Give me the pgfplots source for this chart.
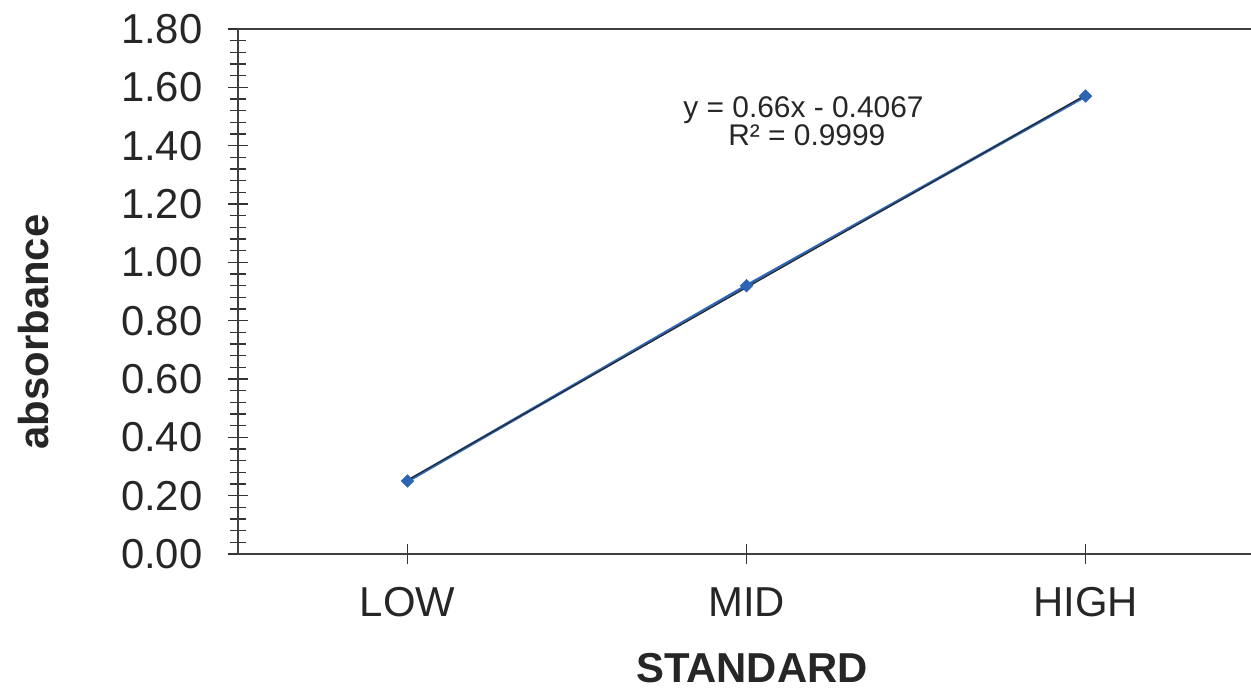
\documentclass[border=0pt]{standalone}
\usepackage{fontspec}
\setmainfont{Liberation Sans}
\usepackage{pgfplots}
\pgfplotsset{compat=1.18}
\definecolor{serblue}{RGB}{46,100,180}
\begin{document}
\begin{tikzpicture}
\begin{axis}[
  scale only axis, width=1013bp, height=525bp,
  xmin=0.5, xmax=3.488, ymin=0, ymax=1.8,
  axis x line*=bottom, axis y line*=left,
  axis line style={line width=1.6bp, color=black!75},
  xtick={1,2,3}, xticklabels={LOW,MID,HIGH},
  ytick={0,0.2,0.4,0.6,0.8,1.0,1.2,1.4,1.6,1.8},
  minor y tick num=4,
  tick align=center,
  major tick length=20bp, minor tick length=16bp,
  every tick/.style={black!80, line width=1.2bp},
  tick label style={font=\fontsize{42}{50}\selectfont, text=black!85},
  yticklabel style={xshift=-22bp, /pgf/number format/.cd, fixed, fixed zerofill, precision=2, assume math mode=true},
  xticklabel style={yshift=-20bp},
  xlabel={STANDARD}, ylabel={absorbance},
  every axis x label/.style={at={(axis description cs:0.5074,-0.2180)},anchor=center,inner sep=1bp,font=\bfseries\fontsize{42}{48}\selectfont, text=black!85},
  every axis y label/.style={at={(axis description cs:-0.2014,0.423)},rotate=90,anchor=center,font=\bfseries\fontsize{42}{48}\selectfont, text=black!85},
  clip=false,
]
\addplot[serblue, line width=3bp, no marks] coordinates {(1,0.25)(2,0.92)(3,1.57)};
\addplot[black!85, line width=1.1bp, no marks] coordinates {(1,0.2533)(2,0.9133)(3,1.5733)};
\addplot[only marks, mark=square*, mark size=4.5bp, mark options={rotate=45, fill=serblue, draw=serblue}] coordinates {(1,0.25)(2,0.92)(3,1.57)};
\draw[black!75, line width=1.6bp] (rel axis cs:0,1) -- (rel axis cs:1,1);
\node[anchor=base, inner sep=0pt, font=\fontsize{30}{34}\selectfont, text=black!85] at (axis cs:2.168,1.495) {y = 0.66x - 0.4067};
\node[anchor=base, inner sep=0pt, font=\fontsize{30}{34}\selectfont, text=black!85] at (axis cs:2.178,1.402) {R² = 0.9999};
\end{axis}
\pgfresetboundingbox
\path[use as bounding box] (-238bp,-137bp) rectangle (1013bp,554bp);
\end{tikzpicture}
\end{document}
